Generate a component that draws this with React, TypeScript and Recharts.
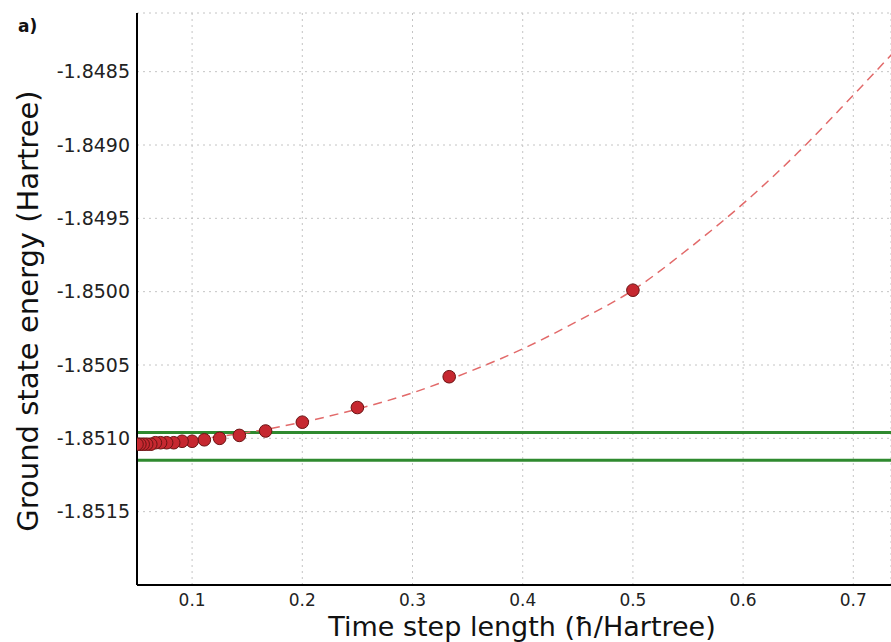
import {
  CartesianGrid,
  ComposedChart,
  Line,
  ReferenceLine,
  Scatter,
  XAxis,
  YAxis,
} from "recharts";

// time step (ħ/Hartree) of each simulation run
const stepSizes = [
  0.5, 0.3333, 0.25, 0.2, 0.1667, 0.1429, 0.125, 0.1111, 0.1, 0.0909, 0.0833,
  0.0769, 0.0714, 0.0667, 0.0625, 0.0588, 0.0556, 0.0526, 0.05,
];
// ground state energy (Hartree) of each run
const energies = [
  -1.84999, -1.85058, -1.85079, -1.85089, -1.85095, -1.85098, -1.851,
  -1.85101, -1.85102, -1.85102, -1.85103, -1.85103, -1.85103, -1.85103,
  -1.85104, -1.85104, -1.85104, -1.85104, -1.85104,
];

// fitted curve
const fitSteps = [
  0.05, 0.1, 0.15, 0.2, 0.25, 0.3, 0.35, 0.4, 0.45, 0.5, 0.55, 0.6, 0.65, 0.7,
  0.75,
];
const fitEnergies = [
  -1.85104, -1.85101, -1.85096, -1.85089, -1.8508, -1.85069, -1.85055,
  -1.85039, -1.8502, -1.84999, -1.84971, -1.8494, -1.84905, -1.84866,
  -1.84826,
];

// reference band (green lines)
const bandLevels = [-1.85096, -1.85115];

const xTicks = [0.1, 0.2, 0.3, 0.4, 0.5, 0.6, 0.7];
const yTicks = [-1.8515, -1.851, -1.8505, -1.85, -1.8495, -1.849, -1.8485];

const points = stepSizes.map((x, i) => ({ x, y: energies[i] }));
const fit = fitSteps.map((x, i) => ({ x, y: fitEnergies[i] }));

const font = "'DejaVu Sans', sans-serif";

function Dot(props: { cx?: number; cy?: number }) {
  const { cx, cy } = props;
  if (cx == null || cy == null) return null;
  return (
    <circle
      cx={cx}
      cy={cy}
      r={6.3}
      fill="#c62830"
      stroke="#6a1414"
      strokeWidth={1}
    />
  );
}

export default function App() {
  return (
    <div
      style={{
        position: "absolute",
        left: 0,
        top: 0,
        width: 891,
        height: 642,
        background: "#fff",
        fontFamily: font,
        overflow: "hidden",
      }}
    >
      <ComposedChart
        width={891}
        height={642}
        margin={{ top: 13, right: 0, bottom: 0, left: 0 }}
      >
        <CartesianGrid stroke="#c4c4c4" strokeDasharray="2 4" />
        <XAxis
          type="number"
          dataKey="x"
          domain={[0.05, 0.7342]}
          ticks={xTicks}
          allowDataOverflow
          height={57}
          axisLine={{ stroke: "#000", strokeWidth: 2 }}
          tickLine={false}
          tickSize={6}
          tickMargin={3}
          tick={{ fill: "#222", fontSize: 17, fontFamily: font }}
          label={{
            value: "Time step length (ħ/Hartree)",
            content: () => (
              <text
                x={522}
                y={636}
                textAnchor="middle"
                fill="#111"
                fontSize={27}
                fontFamily={font}
              >
                Time step length (ħ/Hartree)
              </text>
            ),
          }}
        />
        <YAxis
          type="number"
          dataKey="y"
          domain={[-1.852, -1.8481]}
          ticks={yTicks}
          allowDataOverflow
          width={137}
          axisLine={{ stroke: "#000", strokeWidth: 2 }}
          tickLine={false}
          tickSize={5}
          tickMargin={2}
          tickFormatter={(v: number) => v.toFixed(4)}
          tick={{ fill: "#222", fontSize: 19, fontFamily: font }}
          label={{
            value: "Ground state energy (Hartree)",
            content: () => (
              <text
                x={0}
                y={0}
                transform="translate(38, 311) rotate(-90)"
                textAnchor="middle"
                fill="#111"
                fontSize={29}
                fontFamily={font}
              >
                Ground state energy (Hartree)
              </text>
            ),
          }}
        />
        {bandLevels.map((v) => (
          <ReferenceLine
            key={v}
            y={v}
            stroke="#2f8a2f"
            strokeWidth={3}
            ifOverflow="hidden"
          />
        ))}
        <Line
          data={fit}
          dataKey="y"
          type="monotone"
          stroke="#e26a6a"
          strokeWidth={1.5}
          strokeDasharray="9 6"
          dot={false}
          activeDot={false}
          isAnimationActive={false}
        />
        <Scatter
          data={points}
          dataKey="y"
          shape={<Dot />}
          isAnimationActive={false}
        />
      </ComposedChart>
      <div
        style={{
          position: "absolute",
          left: 18,
          top: 16,
          fontSize: 17,
          fontWeight: "bold",
          color: "#111",
        }}
      >
        a)
      </div>
    </div>
  );
}
